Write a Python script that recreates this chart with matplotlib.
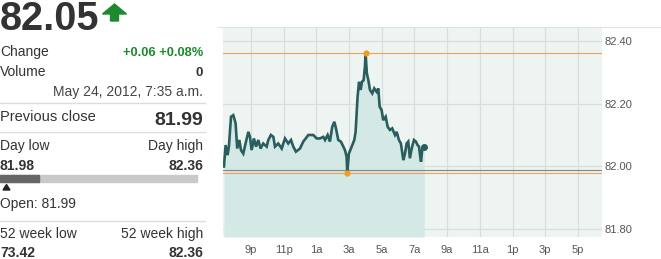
import numpy as np
import matplotlib
matplotlib.use("Agg")
import matplotlib.pyplot as plt
from matplotlib.patches import Rectangle, Polygon
from matplotlib.lines import Line2D

plt.rcParams['font.family'] = ['Liberation Sans', 'DejaVu Sans']

# intraday quote, hours counted from midnight of the previous day (24 = 12a)
hours = [19.35, 19.45, 19.57, 19.65, 19.78, 19.92, 20.06, 20.16, 20.29, 20.39,
         20.53, 20.67, 20.84, 20.94, 21.04, 21.18, 21.31, 21.45, 21.59, 21.75,
         21.96, 22.06, 22.22, 22.37, 22.47, 22.67, 22.88, 23.08, 23.28, 23.45,
         23.59, 23.75, 24.00, 24.20, 24.51, 24.81, 25.02, 25.22, 25.42, 25.53,
         25.69, 25.83, 25.97, 26.10, 26.20, 26.34, 26.50, 26.65, 26.75, 26.85,
         26.89, 26.99, 27.16, 27.32, 27.40, 27.52, 27.61, 27.71, 27.79, 27.89,
         27.97, 28.01, 28.09, 28.18, 28.28, 28.42, 28.54, 28.69, 28.79, 28.87,
         28.99, 29.09, 29.24, 29.36, 29.50, 29.64, 29.81, 29.91, 30.05, 30.17,
         30.32, 30.42, 30.52, 30.62, 30.72, 30.83, 30.97, 31.09, 31.19, 31.28,
         31.34, 31.40, 31.48, 31.60]
prices = [82.000, 82.068, 82.036, 82.063, 82.158, 82.163, 82.137, 82.057, 82.084, 82.052,
          82.041, 82.073, 82.110, 82.094, 82.052, 82.089, 82.063, 82.084, 82.057, 82.073,
          82.063, 82.084, 82.100, 82.094, 82.063, 82.073, 82.057, 82.089, 82.073, 82.084,
          82.063, 82.047, 82.057, 82.079, 82.100, 82.100, 82.089, 82.089, 82.094, 82.084,
          82.100, 82.079, 82.126, 82.142, 82.121, 82.084, 82.079, 82.063, 82.052, 82.031,
          81.980, 82.041, 82.063, 82.084, 82.110, 82.221, 82.269, 82.243, 82.269, 82.274,
          82.317, 82.360, 82.295, 82.274, 82.243, 82.232, 82.248, 82.237, 82.248, 82.190,
          82.179, 82.147, 82.158, 82.126, 82.116, 82.121, 82.100, 82.110, 82.084, 82.073,
          82.020, 82.041, 82.073, 82.079, 82.026, 82.057, 82.084, 82.079, 82.068, 82.063,
          82.036, 82.015, 82.057, 82.063]

day_low = 81.98
day_high = 82.36
prev_close = 81.99

x_ticks = [21, 23, 25, 27, 29, 31, 33, 35, 37, 39, 41]
x_labels = ['9p', '11p', '1a', '3a', '5a', '7a', '9a', '11a', '1p', '3p', '5p']
y_ticks = [81.8, 82.0, 82.2, 82.4]
y_labels = ['81.80', '82.00', '82.20', '82.40']

W, H = 661, 259


def fx(x):
    return x / W


def fy(y):
    return 1 - y / H


fig = plt.figure(figsize=(W / 100, H / 100), dpi=100, facecolor='white')

# ---- chart ----
ax = fig.add_axes([fx(223), fy(237), fx(602) - fx(223), fy(27) - fy(237)])
ax.set_facecolor('#eef4f1')
ax.set_xlim(19.29, 42.47)
ax.set_ylim(81.776, 82.443)
for s in ax.spines.values():
    s.set_visible(False)
ax.set_xticks(x_ticks)
ax.set_xticklabels(x_labels)
ax.set_yticks(y_ticks)
ax.set_yticklabels(y_labels)
ax.yaxis.tick_right()
ax.tick_params(axis='both', length=0, labelsize=8, colors='#555555')
ax.tick_params(axis='x', pad=6)
ax.tick_params(axis='y', pad=2)
ax.grid(True, color='#d8dedb', lw=0.9)
ax.set_axisbelow(True)

t = np.array(hours)
p = np.array(prices)
ax.fill_between(t, p, 81.776, color='#d4e9e5', lw=0, zorder=1)
ax.axhline(day_high, color='#eba35c', lw=0.8, zorder=2)
ax.axhline(day_low, color='#eba35c', lw=0.8, zorder=2)
ax.axhline(prev_close, color='#8c8c8c', lw=0.9, zorder=2)
ax.plot(t, p, color='#2a5d5d', lw=1.9, zorder=3, solid_joinstyle='miter')
ax.plot(t[-1], p[-1], 'o', color='#2a5d5d', ms=4, zorder=4)
i_hi = int(np.argmax(p))
i_lo = int(np.argmin(p))
ax.plot([t[i_hi], t[i_lo]], [p[i_hi], p[i_lo]], 'o', color='#f39c1f',
        ms=4.5, mec='none', zorder=5)

# thin line at the top of the chart block
fig.add_artist(Line2D([fx(218), 1], [fy(27), fy(27)], color='#e2e2e2', lw=0.8))

# ---- quote panel ----
dark = '#333333'
green = '#1e8a2e'
fig.text(fx(0), fy(30), '82.05', fontsize=28.5, fontweight='bold', color=dark,
         va='baseline', ha='left')
arrow = Polygon([(fx(114.5), fy(4)), (fx(126.5), fy(14)), (fx(118.5), fy(14)),
                 (fx(118.5), fy(21)), (fx(110.5), fy(21)), (fx(110.5), fy(14)),
                 (fx(102.5), fy(14))], closed=True, color=green,
                transform=fig.transFigure)
fig.add_artist(arrow)

R = 203
fig.text(fx(0), fy(56), 'Change', fontsize=10, color=dark, va='baseline')
fig.text(fx(R), fy(56), '+0.06 +0.08%', fontsize=9.3, fontweight='bold',
         color=green, va='baseline', ha='right')
fig.text(fx(0), fy(76), 'Volume', fontsize=10, color=dark, va='baseline')
fig.text(fx(R), fy(76), '0', fontsize=9.5, fontweight='bold', color=dark,
         va='baseline', ha='right')
fig.text(fx(R), fy(96), 'May 24, 2012, 7:35 a.m.', fontsize=10, color='#444444',
         va='baseline', ha='right')

for yy in [103, 132, 221]:
    fig.add_artist(Line2D([0, fx(205)], [fy(yy), fy(yy)], color='#dddddd', lw=1))

fig.text(fx(0), fy(121), 'Previous close', fontsize=10.5, color=dark, va='baseline')
fig.text(fx(R), fy(125), '81.99', fontsize=14, fontweight='bold', color=dark,
         va='baseline', ha='right')

fig.text(fx(0), fy(150), 'Day low', fontsize=10, color=dark, va='baseline')
fig.text(fx(R), fy(150), 'Day high', fontsize=10, color=dark, va='baseline', ha='right')
fig.text(fx(0), fy(170), '81.98', fontsize=10, fontweight='bold', color=dark, va='baseline')
fig.text(fx(R), fy(170), '82.36', fontsize=10, fontweight='bold', color=dark,
         va='baseline', ha='right')

# day range bar with open marker
fig.add_artist(Rectangle((fx(0), fy(182)), fx(197), fy(175) - fy(182),
                         color='#c9c9c9', transform=fig.transFigure))
fig.add_artist(Rectangle((fx(0), fy(182)), fx(39), fy(175) - fy(182),
                         color='#666666', transform=fig.transFigure))
fig.add_artist(Polygon([(fx(6.5), fy(184.5)), (fx(10), fy(190)), (fx(3), fy(190))],
                       closed=True, color='#222222', transform=fig.transFigure))
fig.text(fx(0), fy(208), 'Open: 81.99', fontsize=10, color=dark, va='baseline')

fig.text(fx(0), fy(238), '52 week low', fontsize=10, color=dark, va='baseline')
fig.text(fx(R), fy(238), '52 week high', fontsize=10, color=dark, va='baseline', ha='right')
fig.text(fx(0), fy(257), '73.42', fontsize=10, fontweight='bold', color=dark, va='baseline')
fig.text(fx(R), fy(257), '82.36', fontsize=10, fontweight='bold', color=dark,
         va='baseline', ha='right')

fig.savefig('out.png', dpi=100, facecolor='white')
